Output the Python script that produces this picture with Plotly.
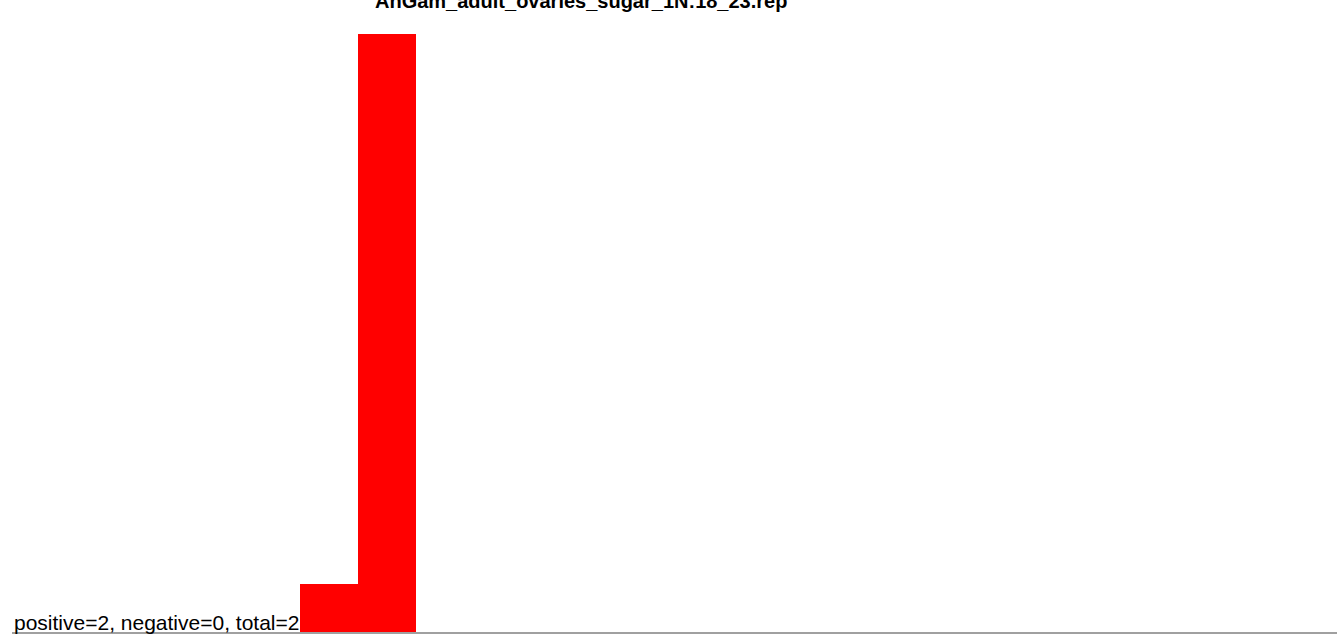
import plotly.graph_objects as go

# Data
bin_starts = [5, 6]
counts = [1.0, 12.5]
title_text = "AnGam_adult_ovaries_sugar_1N:18_23.rep"
footer_text = "positive=2, negative=0, total=2"

W, H = 1337, 636
ml, mr, mt, mb = 12, 0, 0, 4
plot_w = W - ml - mr
plot_h = H - mt - mb
px_per_bin = 58.0
x0 = bin_starts[0] - (300 - ml) / px_per_bin
x1 = x0 + plot_w / px_per_bin
ymax = max(counts) * plot_h / 598.0

fig = go.Figure(
    go.Bar(
        x=[b + 0.5 for b in bin_starts],
        y=counts,
        width=[1] * len(bin_starts),
        marker=dict(color="#ff0000", line=dict(width=0)),
        hoverinfo="skip",
    )
)

fig.update_layout(
    width=W,
    height=H,
    margin=dict(l=ml, r=mr, t=mt, b=mb, pad=0),
    paper_bgcolor="white",
    plot_bgcolor="white",
    showlegend=False,
    bargap=0,
    font=dict(family="Liberation Sans, Arial, sans-serif", color="black"),
    xaxis=dict(
        range=[x0, x1],
        showline=True,
        linecolor="#a0a0a0",
        linewidth=2,
        showgrid=False,
        zeroline=False,
        showticklabels=False,
        ticks="",
        fixedrange=True,
    ),
    yaxis=dict(
        range=[0, ymax],
        showline=False,
        showgrid=False,
        zeroline=False,
        showticklabels=False,
        ticks="",
        fixedrange=True,
    ),
    annotations=[
        dict(
            text="<b>" + title_text + "</b>",
            xref="paper",
            yref="paper",
            x=(580.5 - ml) / plot_w,
            y=1,
            xanchor="center",
            yanchor="middle",
            yshift=-1,
            showarrow=False,
            font=dict(size=20, family="Liberation Sans, Arial, sans-serif", color="black"),
        ),
        dict(
            text=footer_text,
            xref="paper",
            yref="paper",
            x=0,
            y=0,
            xanchor="left",
            yanchor="bottom",
            yshift=-4,
            showarrow=False,
            font=dict(size=21, family="Liberation Sans, Arial, sans-serif", color="black"),
        ),
    ],
)

fig.write_html(
    "out.html",
    config={"displayModeBar": False},
    post_script="document.body.style.margin='0px';document.body.style.overflow='hidden';",
)
